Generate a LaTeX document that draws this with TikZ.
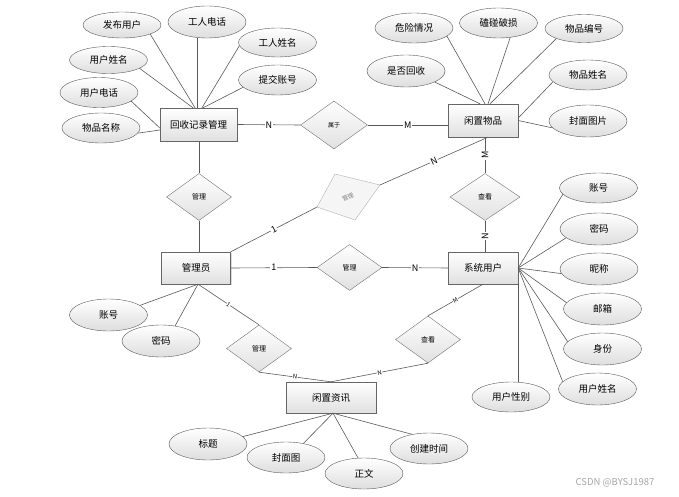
\documentclass[tikz,border=0pt]{standalone}
\usepackage{fontspec}
\newfontfamily\cjk{Noto Sans CJK SC}
\usetikzlibrary{shapes.geometric,shadows}
\begin{document}
\begin{tikzpicture}[x=1pt,y=-1pt,
 every node/.style={font=\cjk},
 ent/.style={rectangle,draw=black!60,top color=white,bottom color=black!12,
   drop shadow={shadow xshift=1.2pt,shadow yshift=-1.2pt,opacity=0.3},
   inner sep=0pt,font=\cjk\fontsize{9.5}{10}\selectfont},
 attr/.style={ellipse,draw=black!65,top color=white,bottom color=black!13,
   minimum width=78pt,minimum height=30pt,inner sep=0pt,font=\cjk\fontsize{9.5}{10}\selectfont},
 rel/.style={diamond,draw=black!55,top color=white,bottom color=black!12,
   minimum width=65pt,minimum height=47pt,inner sep=0pt,font=\cjk\fontsize{7}{7}\selectfont},
 ln/.style={draw=black!65,line width=0.6pt},
 card/.style={fill=white,inner sep=0.8pt,font=\cjk\fontsize{9}{9}\selectfont},
 cards/.style={fill=white,inner sep=0.4pt,font=\cjk\fontsize{6}{6}\selectfont}]
\useasboundingbox (0,0) rectangle (679,497);

% entities
\node[ent,minimum width=77pt,minimum height=33pt] (rec) at (198.5,124.5) {回收记录管理};
\node[ent,minimum width=70pt,minimum height=33pt] (item) at (483,120.5) {闲置物品};
\node[ent,minimum width=69pt,minimum height=32pt] (admin) at (196,268) {管理员};
\node[ent,minimum width=70pt,minimum height=32pt] (user) at (483,268) {系统用户};
\node[ent,minimum width=90pt,minimum height=31pt] (news) at (331,397.5) {闲置资讯};

% relationships
\node[rel,minimum width=67pt,minimum height=48pt,font=\cjk\fontsize{6}{6}\selectfont] (r1) at (334,125) {属于};
\node[rel] (r2) at (199,197) {管理};
\node[rel,minimum width=70pt] (r3) at (485,197) {查看};
\node[rel,minimum height=46pt] (r4) at (349.5,267.5) {管理};
\node[rel] (r5) at (259,348.5) {管理};
\node[rel] (r6) at (428,339.5) {查看};

% grey skewed relationship
\coordinate (gl) at (317,207);
\coordinate (gt) at (335,174);
\coordinate (gr) at (380,185);
\coordinate (gb) at (355,220);
\draw[draw=black!30,fill=black!4] (gl) -- (gt) -- (gr) -- (gb) -- cycle;
\node[rotate=25,text=black!50,font=\cjk\fontsize{6}{6}\selectfont] (glab) at (348,197) {管理};

% attributes of 回收记录管理
\node[attr,minimum height=26pt] (fbyh) at (122,25) {发布用户};
\node[attr,minimum height=32pt] (grdh) at (207,22) {工人电话};
\node[attr,minimum height=29pt] (grxm) at (277.5,42.5) {工人姓名};
\node[attr] (tjzh) at (277.5,80) {提交账号};
\node[attr,minimum height=27pt] (yhxm) at (108.5,60) {用户姓名};
\node[attr] (yhdh) at (99,92.5) {用户电话};
\node[attr] (wpmc) at (101,128) {物品名称};

% attributes of 闲置物品
\node[attr] (wxqk) at (414,28) {危险情况};
\node[attr] (kppx) at (498.5,23) {磕碰破损};
\node[attr,minimum height=28pt] (wpbh) at (584,28.5) {物品编号};
\node[attr,minimum height=32pt] (sfhs) at (406,71) {是否回收};
\node[attr] (wpxm) at (588,75) {物品姓名};
\node[attr,minimum height=32pt] (fmtp) at (588,121) {封面图片};

% attributes of 系统用户
\node[attr] (u1) at (598.5,188) {账号};
\node[attr,minimum height=32pt] (u2) at (599,229) {密码};
\node[attr,minimum height=32pt] (u3) at (599,269) {昵称};
\node[attr,minimum height=32pt] (u4) at (602.5,309) {邮箱};
\node[attr,minimum height=32pt] (u5) at (602.5,349) {身份};
\node[attr,minimum height=32pt] (u6) at (597.5,389) {用户姓名};
\node[attr] (u7) at (511,397) {用户性别};

% attributes of 管理员
\node[attr,minimum height=32pt] (a1) at (108.5,315) {账号};
\node[attr,minimum height=32pt] (a2) at (161,341) {密码};

% attributes of 闲置资讯
\node[attr,minimum height=32pt] (n1) at (208,444) {标题};
\node[attr,minimum height=31pt] (n2) at (286,457.5) {封面图};
\node[attr,minimum height=31pt] (n3) at (364,473.5) {正文};
\node[attr,minimum height=31pt] (n4) at (429,448.5) {创建时间};

% attribute connectors
\draw[ln] ([xshift=-3.5pt]rec.north) -- (fbyh.-18);
\draw[ln] ([xshift=-5.5pt]rec.north) -- (yhxm.-15);
\draw[ln] ([xshift=-1.5pt]rec.north) -- ([xshift=-10pt]grdh.south);
\draw[ln] ([xshift=3.5pt]rec.north) -- (grxm.185);
\draw[ln] ([xshift=4.5pt]rec.north) -- (tjzh.192);
\draw[ln] ([yshift=-3.5pt]rec.west) -- (yhdh.-15);
\draw[ln] ([yshift=-5.5pt]rec.west) -- (wpmc.-8);

\draw[ln] ([xshift=2pt]item.north) -- (wxqk.-14);
\draw[ln] ([xshift=5pt]item.north) -- (kppx.-51);
\draw[ln] ([xshift=7pt]item.north) -- (wpbh.200);
\draw[ln] ([xshift=-3pt]item.north) -- (sfhs.-21);
\draw[ln] ([yshift=2.5pt]item.east) -- (wpxm.191);
\draw[ln] (item.east) -- (fmtp.191);

\draw[ln] (user.east) -- (u1.190);
\draw[ln] (user.east) -- (u2.195);
\draw[ln] (user.east) -- (u3.187);
\draw[ln] (user.east) -- (u4.170);
\draw[ln] (user.east) -- (u5.168);
\draw[ln] (user.east) -- (u6.168);
\draw[ln] (user.south east) -- (u7.north -| user.south east);

\draw[ln] ([xshift=2pt]admin.south) -- (a1.17);
\draw[ln] ([xshift=2pt]admin.south) -- (a2.47);

\draw[ln] ([xshift=2pt]news.south) -- (n1.12);
\draw[ln] ([xshift=2pt]news.south) -- (n2.39);
\draw[ln] ([xshift=2pt]news.south) -- (n3.111);
\draw[ln] ([xshift=2pt]news.south) -- (n4.140);

% relationship connectors
\draw[ln] (rec.east) -- node[card]{N} (r1.west);
\draw[ln] (r1.east) -- node[card]{M} (r1.east -| item.west);
\draw[ln] (rec.south -| r2.north) -- (r2.north);
\draw[ln] (r2.south) -- (r2.south |- admin.north);
\draw[ln] ([xshift=2pt]item.south) -- node[card,rotate=90]{M} (r3.north);
\draw[ln] (r3.south) -- node[card,rotate=90]{N} (r3.south |- user.north);
\draw[ln] (admin.east) -- node[card]{1} (r4.west);
\draw[ln] (r4.east) -- node[card]{N} (user.west);
\draw[ln] (admin.north east) -- node[card,sloped]{1} (gl);
\draw[ln] (gr) -- node[card,sloped]{N} ([xshift=5pt]item.south);
\draw[ln] ([xshift=2pt]admin.south) -- node[cards,sloped]{1} (r5.north);
\draw[ln] (r5.south) -- node[cards,sloped]{N} (news.north);
\draw[ln] (user.south) -- node[cards,sloped]{M} (r6.north);
\draw[ln] (r6.south) -- node[cards,sloped]{N} (news.north);

% watermark
\node[text=black!35,font=\cjk\fontsize{9.5}{10}\selectfont] (wm) at (615,483) {CSDN @BYSJ1987};
\end{tikzpicture}
\end{document}
